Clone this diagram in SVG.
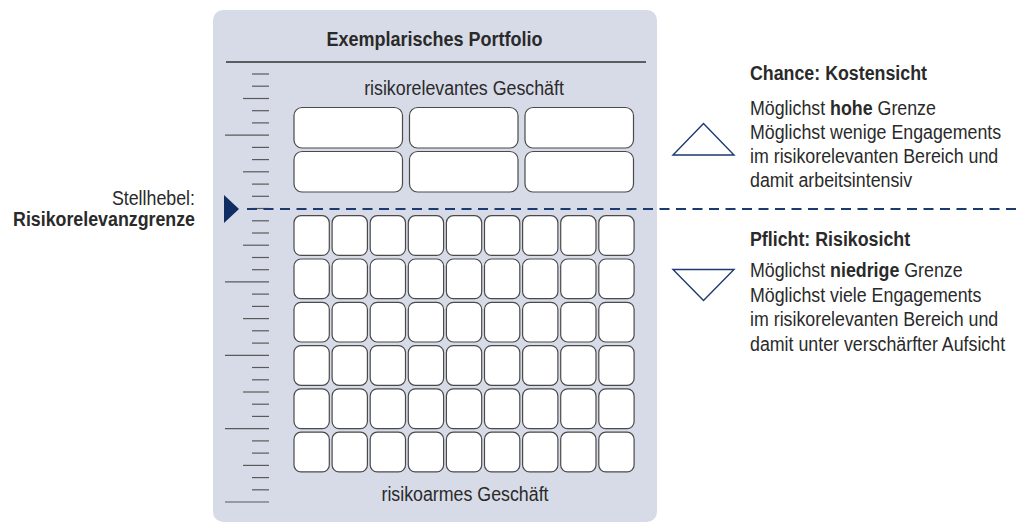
<svg xmlns="http://www.w3.org/2000/svg" width="1016" height="525" viewBox="0 0 1016 525">
  <style>
    text { font-family: "Liberation Sans", Arial, sans-serif; font-size: 20px; fill: #2a2a2a; }
    .b { font-weight: bold; }
    .mid { text-anchor: middle; }
    .end { text-anchor: end; }
    .box { fill: #ffffff; stroke: #4a4a4a; stroke-width: 1.2; }
    .tick { stroke: #5a5a5a; stroke-width: 1.2; }
    .navy { fill: #0f2d62; }
    .tri { fill: none; stroke: #1a3a70; stroke-width: 1.4; stroke-linejoin: miter; }
  </style>
  <defs>
    <rect id="wide" width="108.5" height="40.5" rx="8" ry="8" class="box"/>
    <rect id="cell" width="35.3" height="39.7" rx="7" ry="7" class="box"/>
  </defs>

  <!-- portfolio panel; labels use a slightly narrowed face (scale 0.89 in x) -->
  <g id="portfolio">
    <rect x="213" y="10" width="444" height="512" rx="10" ry="10" fill="#d7dbe7"/>
    <text class="b mid" transform="translate(434.5 46) scale(0.9 1)">Exemplarisches Portfolio</text>
    <line x1="226" y1="62" x2="646" y2="62" stroke="#333" stroke-width="1.3"/>
  </g>

  <!-- ruler scale along the left edge -->
  <g id="ruler">
    <line class="tick" x1="252" y1="74" x2="269" y2="74"/>
    <line class="tick" x1="252" y1="86.2" x2="269" y2="86.2"/>
    <line class="tick" x1="243" y1="98.5" x2="269" y2="98.5"/>
    <line class="tick" x1="252" y1="110.7" x2="269" y2="110.7"/>
    <line class="tick" x1="252" y1="122.9" x2="269" y2="122.9"/>
    <line class="tick" x1="225" y1="135.2" x2="269" y2="135.2"/>
    <line class="tick" x1="252" y1="147.4" x2="269" y2="147.4"/>
    <line class="tick" x1="252" y1="159.6" x2="269" y2="159.6"/>
    <line class="tick" x1="243" y1="171.8" x2="269" y2="171.8"/>
    <line class="tick" x1="252" y1="184.1" x2="269" y2="184.1"/>
    <line class="tick" x1="252" y1="196.3" x2="269" y2="196.3"/>
    <line class="tick" x1="252" y1="208.5" x2="269" y2="208.5"/>
    <line class="tick" x1="252" y1="220.8" x2="269" y2="220.8"/>
    <line class="tick" x1="252" y1="233" x2="269" y2="233"/>
    <line class="tick" x1="243" y1="245.2" x2="269" y2="245.2"/>
    <line class="tick" x1="252" y1="257.5" x2="269" y2="257.5"/>
    <line class="tick" x1="252" y1="269.7" x2="269" y2="269.7"/>
    <line class="tick" x1="225" y1="281.9" x2="269" y2="281.9"/>
    <line class="tick" x1="252" y1="294.1" x2="269" y2="294.1"/>
    <line class="tick" x1="252" y1="306.4" x2="269" y2="306.4"/>
    <line class="tick" x1="243" y1="318.6" x2="269" y2="318.6"/>
    <line class="tick" x1="252" y1="330.8" x2="269" y2="330.8"/>
    <line class="tick" x1="252" y1="343.1" x2="269" y2="343.1"/>
    <line class="tick" x1="225" y1="355.3" x2="269" y2="355.3"/>
    <line class="tick" x1="252" y1="367.5" x2="269" y2="367.5"/>
    <line class="tick" x1="252" y1="379.8" x2="269" y2="379.8"/>
    <line class="tick" x1="243" y1="392" x2="269" y2="392"/>
    <line class="tick" x1="252" y1="404.2" x2="269" y2="404.2"/>
    <line class="tick" x1="252" y1="416.4" x2="269" y2="416.4"/>
    <line class="tick" x1="225" y1="428.7" x2="269" y2="428.7"/>
    <line class="tick" x1="252" y1="440.9" x2="269" y2="440.9"/>
    <line class="tick" x1="252" y1="453.1" x2="269" y2="453.1"/>
    <line class="tick" x1="243" y1="465.4" x2="269" y2="465.4"/>
    <line class="tick" x1="252" y1="477.6" x2="269" y2="477.6"/>
    <line class="tick" x1="252" y1="489.8" x2="269" y2="489.8"/>
    <line class="tick" x1="225" y1="502" x2="269" y2="502"/>
  </g>

  <!-- risk-relevant business: six wide positions -->
  <g id="risk-relevant">
    <text class="mid" transform="translate(464 95) scale(0.89 1)">risikorelevantes Geschäft</text>
    <use href="#wide" x="294" y="107.5"/>
    <use href="#wide" x="409.5" y="107.5"/>
    <use href="#wide" x="525" y="107.5"/>
    <use href="#wide" x="294" y="151.5"/>
    <use href="#wide" x="409.5" y="151.5"/>
    <use href="#wide" x="525" y="151.5"/>
  </g>

  <!-- low-risk business: 9 x 6 grid of positions -->
  <g id="low-risk">
    <g transform="translate(0,215.7)">
      <use href="#cell" x="294"/><use href="#cell" x="332.1"/><use href="#cell" x="370.2"/><use href="#cell" x="408.3"/><use href="#cell" x="446.4"/><use href="#cell" x="484.5"/><use href="#cell" x="522.6"/><use href="#cell" x="560.7"/><use href="#cell" x="598.8"/>
    </g>
    <g transform="translate(0,259)">
      <use href="#cell" x="294"/><use href="#cell" x="332.1"/><use href="#cell" x="370.2"/><use href="#cell" x="408.3"/><use href="#cell" x="446.4"/><use href="#cell" x="484.5"/><use href="#cell" x="522.6"/><use href="#cell" x="560.7"/><use href="#cell" x="598.8"/>
    </g>
    <g transform="translate(0,302.3)">
      <use href="#cell" x="294"/><use href="#cell" x="332.1"/><use href="#cell" x="370.2"/><use href="#cell" x="408.3"/><use href="#cell" x="446.4"/><use href="#cell" x="484.5"/><use href="#cell" x="522.6"/><use href="#cell" x="560.7"/><use href="#cell" x="598.8"/>
    </g>
    <g transform="translate(0,345.6)">
      <use href="#cell" x="294"/><use href="#cell" x="332.1"/><use href="#cell" x="370.2"/><use href="#cell" x="408.3"/><use href="#cell" x="446.4"/><use href="#cell" x="484.5"/><use href="#cell" x="522.6"/><use href="#cell" x="560.7"/><use href="#cell" x="598.8"/>
    </g>
    <g transform="translate(0,388.9)">
      <use href="#cell" x="294"/><use href="#cell" x="332.1"/><use href="#cell" x="370.2"/><use href="#cell" x="408.3"/><use href="#cell" x="446.4"/><use href="#cell" x="484.5"/><use href="#cell" x="522.6"/><use href="#cell" x="560.7"/><use href="#cell" x="598.8"/>
    </g>
    <g transform="translate(0,432.2)">
      <use href="#cell" x="294"/><use href="#cell" x="332.1"/><use href="#cell" x="370.2"/><use href="#cell" x="408.3"/><use href="#cell" x="446.4"/><use href="#cell" x="484.5"/><use href="#cell" x="522.6"/><use href="#cell" x="560.7"/><use href="#cell" x="598.8"/>
    </g>
    <text class="mid" transform="translate(465 501) scale(0.89 1)">risikoarmes Geschäft</text>
  </g>

  <!-- adjustable threshold line -->
  <g id="connectors">
    <line x1="247" y1="209" x2="1016" y2="209" stroke="#1a3a70" stroke-width="2" stroke-dasharray="10 6.5"/>
  </g>

  <!-- lever label and pointer -->
  <g id="lever">
    <text class="end" transform="translate(195 205) scale(0.89 1)">Stellhebel:</text>
    <text class="b end" transform="translate(195 226) scale(0.89 1)">Risikorelevanzgrenze</text>
    <polygon class="navy" points="224,195 239,209 224,223"/>
  </g>

  <!-- upper side: cost view -->
  <g id="chance">
    <polygon class="tri" points="673,155 734,155 703.5,123.5"/>
    <text class="b" transform="translate(750 80) scale(0.89 1)">Chance: Kostensicht</text>
    <text transform="translate(750 114.5) scale(0.89 1)">Möglichst <tspan class="b">hohe</tspan> Grenze</text>
    <text transform="translate(750 138.8) scale(0.89 1)">Möglichst wenige Engagements</text>
    <text transform="translate(750 163.1) scale(0.89 1)">im risikorelevanten Bereich und</text>
    <text transform="translate(750 187.4) scale(0.89 1)">damit arbeitsintensiv</text>
  </g>

  <!-- lower side: risk view -->
  <g id="pflicht">
    <polygon class="tri" points="673,269.5 734,269.5 703.5,300.5"/>
    <text class="b" transform="translate(750 246) scale(0.89 1)">Pflicht: Risikosicht</text>
    <text transform="translate(750 277) scale(0.89 1)">Möglichst <tspan class="b">niedrige</tspan> Grenze</text>
    <text transform="translate(750 301.5) scale(0.89 1)">Möglichst viele Engagements</text>
    <text transform="translate(750 326) scale(0.89 1)">im risikorelevanten Bereich und</text>
    <text transform="translate(750 350.5) scale(0.89 1)">damit unter verschärfter Aufsicht</text>
  </g>
</svg>
